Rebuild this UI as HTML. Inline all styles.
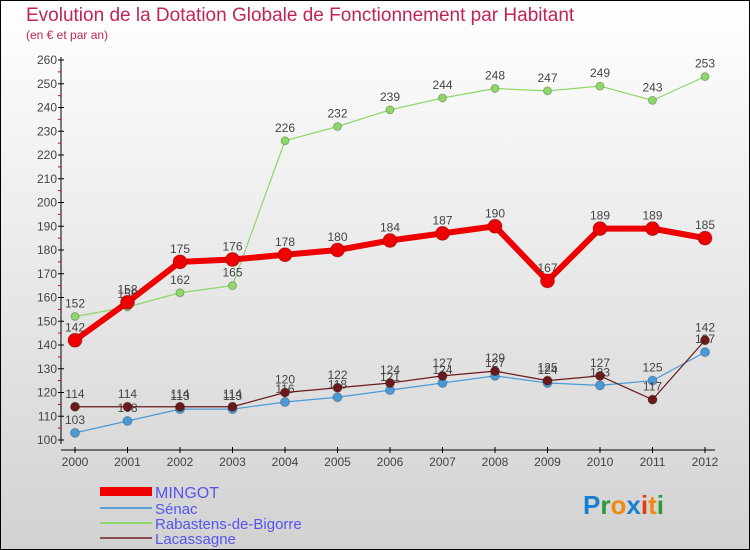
<!DOCTYPE html>
<html><head><meta charset="utf-8"><style>
body{margin:0}
#wrap{width:750px;height:550px;position:relative;box-sizing:border-box;border:1px solid #000;background:linear-gradient(#ffffff,#d2d2d2);font-family:"Liberation Sans",sans-serif;overflow:hidden}
</style></head><body>
<div id="wrap">
<svg id="svg" width="750" height="550" style="position:absolute;left:-1px;top:-1px">
<text x="26" y="21" font-size="19" fill="#c0245a">Evolution de la Dotation Globale de Fonctionnement par Habitant</text>
<text x="26" y="39" font-size="12" fill="#c0245a">(en € et par an)</text>
<g id="axes"></g><g id="series"></g>
<g>
<rect x="100" y="487" width="52" height="9" fill="#ee0000"/>
<text x="155" y="498" font-size="16" fill="#5555ee">MINGOT</text>
<rect x="100" y="507" width="52" height="2" fill="#5aa0d8"/>
<text x="155" y="514" font-size="15" fill="#5555ee">Sénac</text>
<rect x="100" y="522" width="52" height="2" fill="#8ed86a"/>
<text x="155" y="529" font-size="15" fill="#5555ee">Rabastens-de-Bigorre</text>
<rect x="100" y="537" width="52" height="2" fill="#8a5050"/>
<text x="155" y="544" font-size="15" fill="#5555ee">Lacassagne</text>
</g>
<g font-size="26" font-weight="bold">
<text x="583" y="514"><tspan fill="#1a7fd0">P</tspan><tspan fill="#2a9a3a">r</tspan><tspan fill="#f08a10">o</tspan><tspan fill="#1a7fd0">x</tspan><tspan fill="#e04010">i</tspan><tspan fill="#f08a10">t</tspan><tspan fill="#2a9a3a">i</tspan></text>
</g>
</svg>
</div>
<script>
const years=["2000","2001","2002","2003","2004","2005","2006","2007","2008","2009","2010","2011","2012"];
const yTicks=[100,110,120,130,140,150,160,170,180,190,200,210,220,230,240,250,260];
const mingot=[142,158,175,176,178,180,184,187,190,167,189,189,185];
const senac=[103,108,113,113,116,118,121,124,127,124,123,125,137];
const rabastens=[152,156,162,165,226,232,239,244,248,247,249,243,253];
const lacassagne=[114,114,114,114,120,122,124,127,129,125,127,117,142];
const NS="http://www.w3.org/2000/svg";
const X=i=>75+i*52.5, Y=v=>440-(v-100)*2.375;
function mk(p,t,a){const e=document.createElementNS(NS,t);for(const k in a)e.setAttribute(k,a[k]);p.appendChild(e);return e;}
const ax=document.getElementById('axes');
let e=mk(ax,'line',{x1:61,y1:57,x2:61,y2:444,stroke:'#000','stroke-width':1});

e=mk(ax,'line',{x1:61,y1:450,x2:715,y2:450,stroke:'#000','stroke-width':1});

yTicks.forEach((v,i)=>{
 mk(ax,'line',{x1:58,y1:Y(v),x2:64,y2:Y(v),stroke:'#000'});
 if(i<yTicks.length-1)mk(ax,'line',{x1:58,y1:Y(v+5),x2:61,y2:Y(v+5),stroke:'#e00000'});
 const t=mk(ax,'text',{x:57,y:Y(v)+4,'font-size':12,fill:'#444','text-anchor':'end'});t.textContent=v;
 
});
years.forEach((y,i)=>{
 mk(ax,'line',{x1:X(i),y1:447,x2:X(i),y2:453,stroke:'#000'});
 const t=mk(ax,'text',{x:X(i),y:466,'font-size':12,fill:'#444','text-anchor':'middle'});t.textContent=y;
 
});
const sg=document.getElementById('series');
function series(name,data,color,w,r,lab){
 const g=mk(sg,'g',{});
 
 const pl=mk(g,'polyline',{points:data.map((v,i)=>X(i)+','+Y(v)).join(' '),fill:'none',stroke:color,'stroke-width':w,'stroke-linejoin':'round'});
 
 data.forEach((v,i)=>{
  const c=mk(g,'circle',{cx:X(i),cy:Y(v),r:r,fill:color,stroke:'rgba(0,0,0,0.25)','stroke-width':1});
  
  const t=mk(g,'text',{x:X(i),y:Y(v)-9,'font-size':12,fill:'#444','text-anchor':'middle'});t.textContent=v;
  
 });
}
series('rabastens',rabastens,'#8ed86a',1.2,4,true);
series('senac',senac,'#4a9ad8',1.2,4.5,true);
series('lacassagne',lacassagne,'#6a1a1a',1.2,4.5,true);
series('mingot',mingot,'#ee0000',6,7,true);
</script>
</body></html>
